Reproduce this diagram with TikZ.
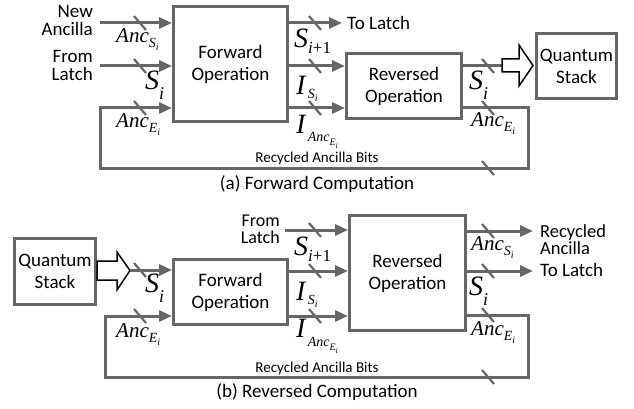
\documentclass[tikz,border=0pt]{standalone}
\usepackage[no-math]{fontspec}
\setmainfont{Carlito}
\newfontfamily\tms{Liberation Serif}
\usetikzlibrary{arrows.meta}
\definecolor{lg}{RGB}{102,102,102}
\tikzset{
 box/.style={draw=lg, line width=3pt, fill=white, inner sep=0pt, align=center, font=\fontsize{19}{22}\selectfont},
 wire/.style={draw=lg, line width=3pt, line join=miter},
 sig/.style={wire, -{Triangle[length=13pt,width=11pt]}},
 slashmark/.style={draw=lg, line width=2.2pt},
 mlab/.style={inner sep=0pt, anchor=base west, font=\tms\itshape},
 txt/.style={inner sep=0pt, align=right, font=\fontsize{19}{18}\selectfont},
 txtl/.style={inner sep=0pt, align=left, font=\fontsize{19}{17}\selectfont},
 small/.style={inner sep=0pt, font=\fontsize{15}{17}\selectfont},
 captext/.style={inner sep=0pt, font=\fontsize{19}{22}\selectfont},
 fat/.style={draw=black, line width=1.5pt, fill=white, line join=miter},
}
\newcommand\slashat[1]{\draw[slashmark] (#1) ++(-6,-7) -- ++(12,14);}
% lowered, resized subscript: \lsub{lower}{size}{text}
\newcommand\lsub[3]{\raisebox{-#1pt}{\fontsize{#2}{#2}\selectfont #3}}
\newcommand\AncS{{\fontsize{21}{21}\selectfont Anc\lsub{5}{14}{S\lsub{3}{10}{i}}}}
\newcommand\AncE{{\fontsize{21}{21}\selectfont Anc\lsub{5}{14}{E\lsub{3}{10}{i}}}}
\newcommand\Sii{{\fontsize{28}{28}\selectfont S\lsub{10}{18}{i}}}
\newcommand\Sip{{\fontsize{28}{28}\selectfont S\lsub{6}{17}{i\upshape+1}}}
\newcommand\ISi{{\fontsize{28}{28}\selectfont I\lsub{4}{14}{\,S\lsub{3}{10}{i}}}}
\newcommand\IAnc{{\fontsize{28}{28}\selectfont I\lsub{9}{14}{\,Anc\lsub{4}{10}{E\lsub{3}{8}{i}}}}}
\begin{document}
\begin{tikzpicture}[x=1pt,y=-1pt]
\useasboundingbox (0,0) rectangle (634,409);
% ---------------- (a) ----------------
\node[box, minimum width=114pt, minimum height=115pt] (fwdA) at (230.5,64) {Forward\\Operation};
\node[box, minimum width=115pt, minimum height=65pt] (revA) at (404,86) {Reversed\\Operation};
\node[box, minimum width=80pt, minimum height=65pt] (qsA) at (576.5,66) {Quantum\\Stack};

\node[txt, anchor=east] (tNewA) at (93,20) {New\\Ancilla};
\node[txt, anchor=east] (tLatchA) at (93,65) {From\\Latch};
\node[txtl, anchor=west] (tToA) at (347,23) {To Latch};

\coordinate (inA1) at (100,23);
\coordinate (inA2) at (100,66);
\coordinate (outA1) at (342,23);
\coordinate (yA2) at (0,66);
\coordinate (yA3) at (0,108);
\coordinate (fatA) at (502,66);
\coordinate (cA1) at (528,108);
\coordinate (cA2) at (528,168);
\coordinate (cA3) at (100,168);
\coordinate (cA4) at (100,108);

\draw[sig] (inA1) -- (inA1 -| fwdA.west);
\draw[sig] (inA2) -- (inA2 -| fwdA.west);
\draw[sig] (outA1 -| fwdA.east) -- (outA1);
\draw[sig] (yA2 -| fwdA.east) -- (yA2 -| revA.west);
\draw[sig] (yA3 -| fwdA.east) -- (yA3 -| revA.west);
\draw[wire] (fatA -| revA.east) -- (fatA);
\draw[sig] (cA1 -| revA.east) -- (cA1) -- (cA2) -- (cA3) -- (cA4) -- (cA4 -| fwdA.west);
\draw[fat] (502,59) -- (519,59) -- (519,45) -- (533,65.5) -- (519,86) -- (519,72) -- (502,72) -- cycle;

\foreach \p in {{140,23},{140,66},{140,108},{315,23},{315,66},{315,108},{488,66},{488,108},{488,168}}
  {\slashat{\p}}

\node[mlab] (aL1) at (116,43) {\AncS};
\node[mlab] (aL2) at (145,90) {\Sii};
\node[mlab] (aL3) at (116,128) {\AncE};
\node[mlab] (aL4) at (294,48) {\Sip};
\node[mlab] (aL5) at (296,95) {\ISi};
\node[mlab] (aL6) at (296,133) {\IAnc};
\node[mlab] (aL7) at (469,90) {\Sii};
\node[mlab] (aL8) at (471,127) {\AncE};
\node[small] (aRec) at (317,159) {Recycled Ancilla Bits};
\node[captext] (aCap) at (317,184.5) {(a) Forward Computation};

% ---------------- (b) ----------------
\node[box, minimum width=81pt, minimum height=66pt] (qsB) at (55,271.5) {Quantum\\Stack};
\node[box, minimum width=114pt, minimum height=65pt] (fwdB) at (230.5,292) {Forward\\Operation};
\node[box, minimum width=116pt, minimum height=115pt] (revB) at (407.5,273) {Reversed\\Operation};

\node[txt, anchor=east, font=\fontsize{18}{17}\selectfont] (tLatchB) at (280,229) {From\\Latch};
\node[txtl, anchor=west, font=\fontsize{18.5}{17}\selectfont] (tRecB) at (540,240) {Recycled\\Ancilla};
\node[txtl, anchor=west] (tToB) at (540,270) {To Latch};

\coordinate (inB1) at (130,270);
\coordinate (inB2) at (285,230);
\coordinate (yB2) at (0,271);
\coordinate (yB3) at (0,316);
\coordinate (outB1) at (533,231);
\coordinate (outB2) at (533,271);
\coordinate (cB1) at (528,315);
\coordinate (cB2) at (528,377);
\coordinate (cB3) at (105,377);
\coordinate (cB4) at (105,316);

\draw[fat] (97,261) -- (117,261) -- (117,252) -- (130,270.5) -- (117,290) -- (117,280) -- (97,280) -- cycle;
\draw[sig] (inB1) -- (inB1 -| fwdB.west);
\draw[sig] (inB2) -- (inB2 -| revB.west);
\draw[sig] (yB2 -| fwdB.east) -- (yB2 -| revB.west);
\draw[sig] (yB3 -| fwdB.east) -- (yB3 -| revB.west);
\draw[sig] (outB1 -| revB.east) -- (outB1);
\draw[sig] (outB2 -| revB.east) -- (outB2);
\draw[sig] (cB1 -| revB.east) -- (cB1) -- (cB2) -- (cB3) -- (cB4) -- (cB4 -| fwdB.west);

\foreach \p in {{140,270},{140,316},{315,230},{315,271},{315,316},{488,231},{488,271},{488,315},{488,377}}
  {\slashat{\p}}

\node[mlab] (bL1) at (294,255) {\Sip};
\node[mlab] (bL2) at (145,292) {\Sii};
\node[mlab] (bL3) at (116,337) {\AncE};
\node[mlab] (bL4) at (296,300) {\ISi};
\node[mlab] (bL5) at (296,337) {\IAnc};
\node[mlab] (bL6) at (471,250) {\AncS};
\node[mlab] (bL7) at (469,295) {\Sii};
\node[mlab] (bL8) at (471,335) {\AncE};
\node[small] (bRec) at (317,368) {Recycled Ancilla Bits};
\node[captext] (bCap) at (317,392) {(b) Reversed Computation};
\end{tikzpicture}
\end{document}
